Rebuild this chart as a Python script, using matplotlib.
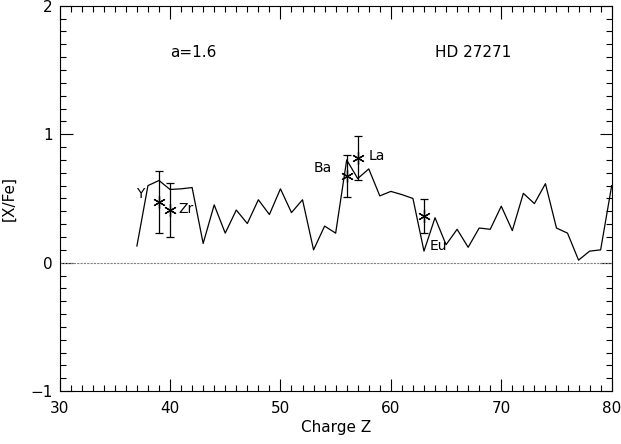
import matplotlib
matplotlib.use("Agg")
import matplotlib.pyplot as plt
from matplotlib.ticker import MultipleLocator

# model curve [X/Fe] vs charge Z
model_z = list(range(37, 81))
model_xfe = [0.13, 0.60, 0.64, 0.57, 0.575, 0.585, 0.15, 0.45, 0.23, 0.41,
             0.305, 0.49, 0.375, 0.575, 0.39, 0.49, 0.10, 0.285, 0.23, 0.80,
             0.655, 0.73, 0.52, 0.555, 0.53, 0.50, 0.09, 0.35, 0.14, 0.26,
             0.12, 0.27, 0.26, 0.44, 0.25, 0.54, 0.46, 0.615, 0.27, 0.23,
             0.02, 0.09, 0.10, 0.60]

# observed abundances
obs_names = ["Y", "Zr", "Ba", "La", "Eu"]
obs_z = [39, 40, 56, 57, 63]
obs_xfe = [0.475, 0.41, 0.675, 0.815, 0.365]
obs_err = [0.24, 0.21, 0.16, 0.17, 0.13]

plt.rcParams['font.family'] = ['DejaVu Sans']
fig = plt.figure(figsize=(6.21, 4.44), dpi=100)
ax = fig.add_axes([0.096, 0.119, 0.889, 0.868])

ax.plot(model_z, model_xfe, color='black', lw=0.9)
ax.errorbar(obs_z, obs_xfe, yerr=obs_err, fmt='none', ecolor='black',
            elinewidth=0.9, capsize=3, capthick=0.9)
ax.plot(obs_z, obs_xfe, ls='none', marker=(6, 2, 0), ms=9, mec='black',
        mew=0.9)
ax.axhline(0, color='grey', lw=0.8, ls=(0, (2, 1)))

# element labels, offsets from the points
offsets = {"Y": (-2.1, 0.06), "Zr": (0.8, 0.01), "Ba": (-3.0, 0.06),
           "La": (1.0, 0.015), "Eu": (0.5, -0.235)}
for name, z, v in zip(obs_names, obs_z, obs_xfe):
    dx, dy = offsets[name]
    ax.text(z + dx, v + dy, name, fontsize=10, va='center', ha='left')

ax.text(40.0, 1.64, "a=1.6", fontsize=11, va='center', ha='left')
ax.text(64.0, 1.64, "HD 27271", fontsize=11, va='center', ha='left')

ax.set_xlim(30, 80)
ax.set_ylim(-1, 2)
ax.xaxis.set_major_locator(MultipleLocator(10))
ax.xaxis.set_minor_locator(MultipleLocator(1))
ax.yaxis.set_major_locator(MultipleLocator(1))
ax.yaxis.set_minor_locator(MultipleLocator(0.1))
ax.tick_params(which='both', direction='in', top=True, right=True,
               labelsize=11, width=0.8)
ax.tick_params(which='major', length=9)
ax.tick_params(axis='x', which='major', pad=7)
ax.tick_params(axis='y', which='major', pad=5)
ax.tick_params(which='minor', length=4)
for s in ax.spines.values():
    s.set_linewidth(0.8)

ax.set_xlabel("Charge Z", fontsize=11, labelpad=3)
ax.set_ylabel("[X/Fe]", fontsize=11, labelpad=14)
ax.yaxis.set_label_coords(-0.078, 0.5)

fig.savefig("out.png", dpi=100)
